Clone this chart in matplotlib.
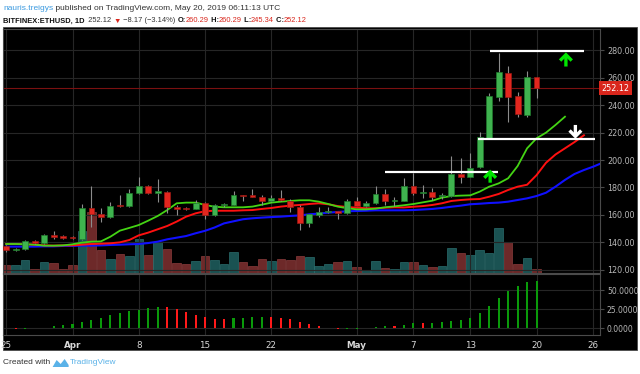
import numpy as np
import matplotlib.pyplot as plt
from matplotlib.patches import Rectangle, FancyArrowPatch, Polygon
import matplotlib.transforms as mtransforms

plt.rcParams['font.family'] = ['DejaVu Sans']

# day index 0 = Mar 25 2019, last candle = May 20
day_ticks = [0, 7, 14, 21, 28, 37, 43, 49, 56, 62]
day_labels = ['25', 'Apr', '8', '15', '22', 'May', '7', '13', '20', '26']

opens = [137.4, 134.5, 135.2, 141.1, 139.5, 145.5, 144.3, 143.8, 142.7, 165.0,
         160.7, 158.3, 167.2, 166.6, 176.2, 181.1, 176.3, 176.9, 165.6, 164.9,
         164.5, 168.5, 160.0, 167.1, 167.4, 174.4, 173.9, 173.3, 170.2, 172.1,
         170.3, 166.1, 154.5, 160.3, 162.1, 162.4, 161.7, 170.0, 166.8, 169.0,
         175.0, 170.4, 170.4, 181.1, 176.0, 176.5, 173.6, 173.8, 189.8, 187.9,
         194.7, 216.2, 246.1, 263.5, 246.3, 232.7, 260.29]
highs = [137.9, 136.0, 141.5, 142.0, 146.2, 148.6, 145.2, 145.0, 168.0, 181.1,
         164.9, 169.7, 174.3, 178.7, 187.4, 181.5, 186.4, 177.5, 167.2, 165.8,
         171.0, 169.5, 167.8, 169.0, 177.7, 174.8, 179.1, 174.5, 174.5, 178.2,
         171.9, 167.3, 160.8, 165.6, 166.0, 163.2, 171.6, 172.9, 170.2, 181.1,
         178.7, 172.9, 187.2, 190.8, 181.8, 179.4, 175.8, 203.2, 201.2, 204.9,
         220.1, 248.5, 278.1, 268.4, 249.7, 265.0, 260.29]
lows = [133.3, 133.6, 134.8, 138.8, 139.2, 142.3, 142.8, 142.5, 142.0, 151.5,
        155.1, 157.8, 165.6, 165.8, 175.5, 175.6, 169.2, 161.2, 160.0, 163.6,
        164.0, 156.8, 159.3, 165.6, 167.0, 170.2, 172.9, 167.3, 169.7, 169.9,
        162.0, 149.1, 151.0, 158.8, 161.2, 156.8, 161.0, 166.4, 166.0, 168.3,
        167.0, 166.5, 170.0, 174.8, 172.1, 170.9, 171.4, 173.3, 183.5, 187.5,
        194.0, 215.5, 242.7, 227.4, 231.0, 231.0, 245.34]
closes = [134.5, 135.2, 141.1, 139.5, 145.5, 144.3, 143.6, 143.2, 165.0, 160.7,
          158.3, 166.5, 166.6, 176.2, 181.1, 176.2, 176.9, 165.6, 164.7, 164.4,
          168.5, 160.0, 167.3, 167.5, 174.3, 173.9, 173.4, 170.2, 172.1, 170.6,
          166.1, 154.5, 160.5, 162.2, 162.6, 161.8, 170.0, 166.9, 169.0, 175.0,
          170.4, 170.9, 181.1, 175.8, 176.5, 173.3, 174.2, 189.8, 187.9, 194.4,
          216.5, 246.8, 263.8, 246.1, 233.5, 260.4, 252.12]
# volume, thousand ETH
volume = [16.6, 16.6, 26.0, 8.0, 22.0, 20.0, 8.0, 15.4, 84.6, 121.4,
          45.4, 28.6, 38.6, 34.6, 68.0, 36.0, 61.4, 48.6, 20.0, 17.4,
          23.4, 33.4, 26.0, 18.6, 42.6, 21.4, 14.6, 28.6, 24.6, 28.6,
          26.6, 34.6, 32.0, 14.6, 18.0, 22.0, 24.0, 12.6, 6.6, 24.0,
          9.4, 8.0, 22.0, 22.0, 16.0, 11.4, 14.0, 50.0, 39.4, 35.4,
          46.6, 40.6, 90.0, 62.0, 17.4, 30.0, 8.0]
# Awesome Oscillator
ao = [0.8, -0.8, -0.3, 0.3, 0.4, 3.0, 4.3, 5.6, 7.8, 10.9,
      13.5, 16.9, 20.0, 22.6, 24.3, 26.5, 28.2, 27.3, 24.7, 20.8,
      17.8, 14.3, 12.2, 11.9, 13.0, 13.2, 14.8, 14.9, 14.3, 14.1,
      12.2, 8.7, 5.6, 3.0, 0.4, -1.5, -0.8, -0.3, 0.5, 1.5,
      3.5, 3.0, 4.3, 6.9, 6.5, 7.0, 7.8, 9.5, 10.9, 13.9,
      19.5, 29.0, 39.5, 48.6, 55.6, 60.3, 62.0]
ao_prev = 1.5

# Alligator lines (shifted forward past the last candle)
lips = [138.9, 138.9, 138.7, 138.4, 137.7, 137.7, 137.9, 138.7, 139.9, 140.6,
        140.8, 144.2, 148.6, 150.6, 152.7, 155.9, 159.3, 163.6, 168.5, 169.0,
        169.0, 167.3, 166.0, 165.6, 165.6, 165.6, 166.1, 167.5, 169.0, 169.7,
        170.2, 170.7, 170.7, 169.7, 168.0, 166.1, 164.9, 164.1, 164.1, 164.6,
        165.6, 166.3, 167.1, 168.0, 169.2, 170.4, 172.6, 173.8, 174.1, 174.3,
        177.0, 180.6, 183.0, 186.7, 195.6, 208.5, 215.8, 219.9, 225.5, 231.5]
teeth = [138.9, 138.9, 138.7, 138.4, 137.9, 137.7, 137.9, 137.9, 138.4, 138.9,
         139.1, 139.4, 140.1, 141.8, 145.2, 147.2, 149.6, 152.0, 155.2, 158.8,
         161.2, 162.8, 163.1, 163.1, 163.1, 163.4, 163.6, 164.4, 165.1, 166.1,
         166.8, 167.3, 168.0, 168.5, 167.8, 166.5, 165.8, 165.3, 164.9, 164.9,
         165.3, 165.6, 165.5, 166.0, 166.5, 167.3, 168.5, 170.2, 170.9, 171.4,
         171.6, 173.3, 175.3, 178.2, 180.6, 182.0, 189.0, 198.0, 204.0, 208.5,
         213.0, 218.0]
jaw = [137.0, 137.0, 137.0, 137.0, 137.2, 137.2, 137.5, 137.5, 137.7, 137.7,
       137.9, 138.2, 138.4, 138.7, 138.9, 139.6, 140.6, 142.3, 143.5, 144.7,
       146.7, 148.5, 150.9, 153.9, 155.4, 156.9, 157.6, 158.1, 158.5, 158.8,
       159.3, 159.7, 160.5, 161.0, 161.7, 162.2, 162.7, 162.9, 163.1, 163.4,
       163.4, 163.4, 163.4, 163.6, 164.0, 164.4, 165.1, 166.0, 166.8, 167.8,
       168.2, 168.7, 169.0, 169.7, 170.9, 172.1, 173.8, 176.2, 180.6, 185.5,
       189.8, 192.7, 195.2, 198.1]

# drawn levels: (price, from day, to day)
levels = [(191.3, 40.0, 51.9), (215.5, 49.8, 62.2), (279.0, 51.1, 61.0)]
# arrows: (day, tail price, tip price, colour)
arrows = [(51.1, 183.5, 193.0, '#00e600'), (59.1, 268.0, 278.3, '#00e600'),
          (60.1, 225.5, 215.5, 'white')]

last_price = 252.12

W, H = 640, 374
fig = plt.figure(figsize=(W / 100, H / 100), dpi=100)
fig.patch.set_facecolor('white')
fig.patches.append(Rectangle((3 / W, 1 - 350 / H), 634 / W, 323 / H,
                             transform=fig.transFigure, facecolor='black',
                             edgecolor='#4a4a4a', lw=0.6, zorder=-5))

rect_main = [3 / W, 1 - 273 / H, 597 / W, 244 / H]
vax = fig.add_axes(rect_main)
ax = fig.add_axes(rect_main, sharex=vax)
ao_ax = fig.add_axes([3 / W, 1 - 335 / H, 597 / W, 61 / H], sharex=vax)
ax.set_zorder(2)
vax.set_zorder(1)
ao_ax.set_zorder(1)
ax.patch.set_visible(False)
vax.set_facecolor('black')
vax.axis('off')

x = np.arange(len(closes))
o = np.array(opens)
c = np.array(closes)
up = c >= o

# grid
for a in (ax, ao_ax):
    a.set_facecolor('black')
    for s in a.spines.values():
        s.set_color('#4a4a4a')
        s.set_linewidth(0.8)
    a.grid(True, color='#262626', lw=0.8)
    a.set_axisbelow(True)

# volume
vax.bar(x, volume, width=0.9, color=np.where(up, '#1d5c5c', '#7a2e2e'),
        edgecolor=np.where(up, '#2d7474', '#934040'), lw=0.5, alpha=0.9)
vax.set_ylim(0, 488)
vax.set_xlim(-0.34, 62.7)

# alligator
ax.plot(np.arange(len(jaw)), jaw, color='#1010ff', lw=1.5, zorder=3)
ax.plot(np.arange(len(teeth)), teeth, color='#ff1010', lw=1.4, zorder=3)
ax.plot(np.arange(len(lips)), lips, color='#44d414', lw=1.3, zorder=3)

# candles
ax.vlines(x, lows, highs, color='#8c8c8c', lw=0.8, zorder=4)
body = np.maximum(np.abs(c - o), 0.8)
ax.bar(x, body, bottom=np.minimum(o, c), width=0.62,
       color=np.where(up, '#3fb34f', '#e2261e'),
       edgecolor=np.where(up, '#1f7a2c', '#9c1a14'), lw=0.5, zorder=5)

ax.axhline(last_price, color='#7a1010', lw=0.8, zorder=2)

for price, d0, d1 in levels:
    ax.hlines(price, d0, d1, color='white', lw=1.6, zorder=6)
for d, p0, p1, col in arrows:
    ax.add_patch(FancyArrowPatch((d, p0), (d, p1), arrowstyle='->,head_width=0.35,head_length=0.35',
                                 mutation_scale=12, color=col, lw=2.4, zorder=7,
                                 shrinkA=0, shrinkB=0, capstyle='butt', joinstyle='miter'))

ax.set_ylim(117.8, 295.3)
ax.set_yticks(range(120, 281, 20))
ax.set_yticklabels(['%.2f' % v for v in range(120, 281, 20)])
ax.yaxis.tick_right()
ax.tick_params(axis='y', colors='#4a4a4a', labelcolor='#b8b8b8', labelsize=5.8, length=3, pad=2)
ax.tick_params(axis='x', length=0, labelbottom=False)
ax.set_xticks(day_ticks)

tr = mtransforms.blended_transform_factory(ax.transAxes, ax.transData)
ax.text(1.003, last_price, '%.2f' % last_price, transform=tr, color='white', fontsize=5.8,
        va='center', ha='left', zorder=10,
        bbox=dict(boxstyle='square,pad=0.3', facecolor='#d9261c', edgecolor='none'))

# awesome oscillator
prev = np.concatenate([[ao_prev], ao[:-1]])
ao_arr = np.array(ao)
ao_ax.bar(x, ao_arr, width=0.22, color=np.where(ao_arr >= prev, '#0a9a0a', '#ff1a1a'), zorder=3)
ao_ax.set_ylim(-8.7, 70.9)
ao_ax.set_yticks([0, 25, 50])
ao_ax.set_yticklabels(['0.0000', '25.0000', '50.0000'])
ao_ax.yaxis.tick_right()
ao_ax.tick_params(axis='y', colors='#4a4a4a', labelcolor='#b8b8b8', labelsize=5.5, length=3, pad=2)
ao_ax.set_xticks(day_ticks)
ao_ax.set_xticklabels(day_labels)
ao_ax.tick_params(axis='x', length=0, labelsize=6.3, labelcolor='#d8d8d8', pad=4)
for lab in ao_ax.get_xticklabels():
    if lab.get_text() in ('Apr', 'May'):
        lab.set_fontweight('bold')


def text_run(xpix, ypix, parts, size):
    r = fig.canvas.get_renderer()
    for s, col, wt in parts:
        t = fig.text(xpix / W, 1 - ypix / H, s, color=col, fontsize=size, family='Liberation Sans',
                     fontweight=wt, va='center', ha='left')
        xpix += t.get_window_extent(r).width
    return xpix


dark = '#333333'
red = '#d9261c'
text_run(3, 8.5, [('nauris.treigys', '#3d9be0', 'normal'),
                  (' published on TradingView.com, May 20, 2019 06:11:13 UTC', dark, 'normal')], 6.0)
text_run(3, 21, [('BITFINEX:ETHUSD, 1D', '#111111', 'bold'), ('  252.12 ', dark, 'normal'),
                 ('\u25bc', red, 'normal'), (' \u22128.17 (\u22123.14%) ', dark, 'normal'),
                 ('O:', '#111111', 'bold'), ('260.29', red, 'normal'),
                 (' H:', '#111111', 'bold'), ('260.29', red, 'normal'),
                 (' L:', '#111111', 'bold'), ('245.34', red, 'normal'),
                 (' C:', '#111111', 'bold'), ('252.12', red, 'normal')], 5.4)

# footer
xe = text_run(3, 363, [('Created with ', dark, 'normal')], 6.0)
fig.patches.append(Polygon([((xe) / W, 1 - 367 / H), ((xe + 4) / W, 1 - 360 / H),
                            ((xe + 8) / W, 1 - 364 / H), ((xe + 12) / W, 1 - 359 / H),
                            ((xe + 16) / W, 1 - 365 / H), ((xe + 16) / W, 1 - 367 / H)],
                           closed=True, transform=fig.transFigure, facecolor='#5ab2e8', edgecolor='none'))
text_run(xe + 17, 363, [('TradingView', '#5ab2e8', 'normal')], 6.0)

fig.savefig('out.png', dpi=100, facecolor=fig.get_facecolor())
